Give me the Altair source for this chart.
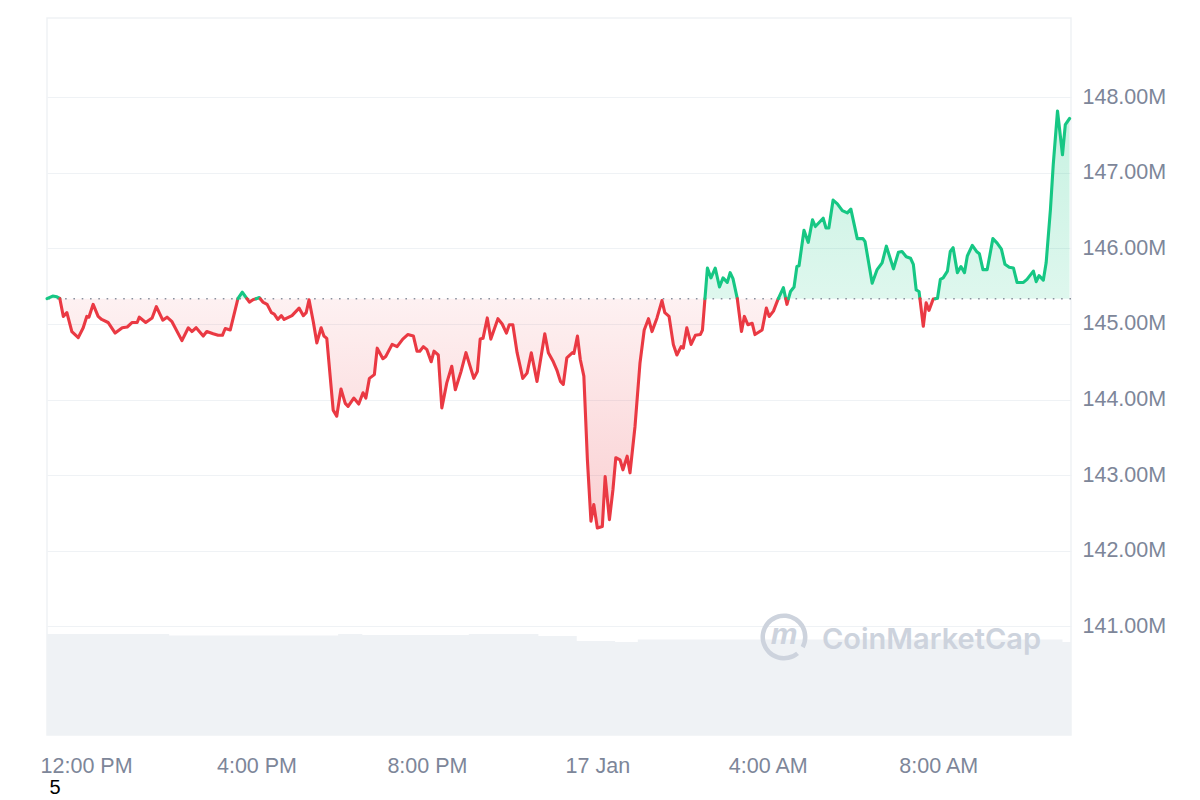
import altair as alt
import pandas as pd

# ---------------- data ----------------
START = "2024-01-16 11:05"
# minutes after START for each price sample
minutes = [0, 8, 14, 18, 23, 28, 35, 44, 51, 56, 59, 65, 72, 77, 86, 96, 106, 113, 120, 127,
           130, 139, 148, 154, 163, 169, 176, 190, 199, 204, 210, 220, 225, 234, 241, 247, 251, 258,
           269, 275, 285, 290, 299, 304, 310, 316, 320, 325, 330, 334, 345, 355, 361, 365, 369, 375,
           380, 386, 390, 394, 403, 408, 414, 420, 424, 432, 439, 445, 449, 454, 461, 465, 473, 477,
           486, 493, 501, 508, 516, 521, 525, 530, 535, 541, 545, 551, 556, 563, 570, 575, 583, 590,
           601, 606, 610, 614, 620, 625, 635, 641, 647, 651, 656, 662, 670, 676, 682, 690, 701, 706,
           713, 718, 723, 727, 732, 740, 742, 747, 751, 756, 761, 766, 770, 775, 782, 786, 792, 797,
           801, 807, 811, 817, 821, 828, 835, 841, 847, 852, 859, 866, 870, 876, 882, 887, 893, 896,
           901, 907, 913, 920, 923, 930, 935, 941, 947, 952, 958, 962, 966, 972, 978, 982, 987, 993,
           997, 1007, 1013, 1017, 1023, 1030, 1037, 1042, 1047, 1052, 1056, 1059, 1066, 1072, 1078,
           1082, 1093, 1097, 1101, 1107, 1113, 1120, 1127, 1132, 1141, 1149, 1152, 1162, 1169, 1176,
           1182, 1192, 1199, 1204, 1210, 1216, 1220, 1224, 1228, 1234, 1238, 1242, 1248, 1254, 1258,
           1262, 1268, 1272, 1276, 1282, 1287, 1292, 1296, 1303, 1309, 1313, 1318, 1324, 1332, 1338,
           1344, 1349, 1355, 1361, 1366, 1375, 1380, 1389, 1393, 1397, 1403, 1407, 1413, 1417, 1423,
           1430, 1434, 1440]
# market cap, millions USD
price = [145.335, 145.37, 145.36, 145.34, 145.10, 145.15, 144.90, 144.82, 144.95, 145.10, 145.09,
         145.26, 145.10, 145.06, 145.02, 144.88, 144.95, 144.96, 145.02, 145.02, 145.09, 145.02,
         145.08, 145.23, 145.05, 145.09, 145.03, 144.78, 144.95, 144.90, 144.95, 144.84, 144.90,
         144.87, 144.85, 144.85, 144.94, 144.92, 145.34, 145.42, 145.29, 145.32, 145.35, 145.29,
         145.26, 145.15, 145.13, 145.06, 145.11, 145.06, 145.11, 145.21, 145.11, 145.15, 145.32,
         145.03, 144.75, 144.95, 144.84, 144.81, 143.86, 143.78, 144.14, 143.95, 143.91, 144.02,
         143.94, 144.09, 144.02, 144.28, 144.33, 144.68, 144.54, 144.57, 144.73, 144.70, 144.80,
         144.86, 144.84, 144.64, 144.64, 144.70, 144.66, 144.50, 144.64, 144.59, 143.89, 144.22,
         144.44, 144.13, 144.37, 144.62, 144.28, 144.37, 144.80, 144.81, 145.08, 144.80, 145.07,
         145.00, 144.88, 144.99, 144.99, 144.62, 144.28, 144.35, 144.62, 144.24, 144.87, 144.62,
         144.50, 144.39, 144.24, 144.20, 144.55, 144.62, 144.61, 144.84, 144.53, 144.31, 143.20,
         142.39, 142.61, 142.30, 142.32, 142.98, 142.41, 142.81, 143.23, 143.20, 143.07, 143.25,
         143.03, 143.64, 144.48, 144.92, 145.07, 144.90, 145.08, 145.31, 145.15, 145.10, 144.73,
         144.59, 144.70, 144.68, 144.95, 144.73, 144.85, 144.86, 144.92, 145.74, 145.61, 145.74,
         145.49, 145.61, 145.55, 145.68, 145.60, 145.34, 144.90, 145.10, 144.99, 145.01, 144.86,
         144.92, 145.21, 145.10, 145.17, 145.34, 145.48, 145.26, 145.43, 145.49, 145.76, 145.77,
         146.24, 146.08, 146.38, 146.29, 146.40, 146.27, 146.27, 146.64, 146.59, 146.50, 146.47,
         146.52, 146.13, 146.13, 146.09, 145.54, 145.72, 145.81, 146.03, 145.73, 145.95, 145.96,
         145.89, 145.87, 145.79, 145.45, 145.43, 144.97, 145.28, 145.18, 145.33, 145.34, 145.59,
         145.61, 145.70, 145.96, 146.01, 145.68, 145.76, 145.68, 145.90, 146.04, 145.96, 145.93,
         145.72, 145.72, 146.13, 146.07, 145.99, 145.79, 145.75, 145.74, 145.55, 145.55, 145.59,
         145.70, 145.56, 145.64, 145.58, 145.81, 146.51, 147.11, 147.82, 147.24, 147.64, 147.72]

# volume profile (relative units, no axis shown)
vol_minutes = [0, 172, 410, 444, 594, 692, 746, 800, 832, 1430, 1442]
volume = [5.05, 4.98, 5.05, 5.00, 5.05, 4.95, 4.70, 4.65, 4.78, 4.65, 4.65]

y_ticks = [141, 142, 143, 144, 145, 146, 147, 148]
x_tick_hours = [(16, 12), (16, 16), (16, 20), (17, 0), (17, 4), (17, 8)]

# ---------------- build tables ----------------
t0 = pd.Timestamp(START)
times = [t0 + pd.Timedelta(minutes=m) for m in minutes]
base = price[0]


def side(v):
    return "up" if v >= base else "down"


rows = []
seg = 0
cur = side(price[0])
rows.append({"t": times[0], "v": price[0], "seg": seg, "side": cur})
for i in range(1, len(price)):
    v0, v1 = price[i - 1], price[i]
    s1 = side(v1)
    if s1 != cur:
        f = (base - v0) / (v1 - v0)
        tc = times[i - 1] + (times[i] - times[i - 1]) * f
        rows.append({"t": tc, "v": base, "seg": seg, "side": cur})
        seg += 1
        cur = s1
        rows.append({"t": tc, "v": base, "seg": seg, "side": cur})
    rows.append({"t": times[i], "v": v1, "seg": seg, "side": cur})

line_df = pd.DataFrame(rows)
line_df["lo"] = line_df["v"].clip(upper=base)
line_df["hi"] = line_df["v"].clip(lower=base)
line_df["base"] = base
line_df["t"] = line_df["t"].dt.strftime("%Y-%m-%dT%H:%M:%S")

vol_df = pd.DataFrame({
    "t": [(t0 + pd.Timedelta(minutes=m)).strftime("%Y-%m-%dT%H:%M:%S") for m in vol_minutes],
    "vol": volume,
})

# ---------------- styling ----------------
RED = "#ea3943"
GREEN = "#16c784"
GRID = "#eff2f5"
LABEL = "#7d8699"
FONT = "Liberation Sans"
FS = 21.5

x_domain = [alt.DateTime(year=2024, month=1, date=16, hours=11, minutes=5),
            alt.DateTime(year=2024, month=1, date=17, hours=11, minutes=7)]
x_values = [alt.DateTime(year=2024, month=1, date=d, hours=h) for d, h in x_tick_hours]

x_enc = alt.X(
    "t:T",
    scale=alt.Scale(domain=x_domain),
    axis=alt.Axis(
        values=x_values,
        labelExpr="hours(datum.value) == 0 ? timeFormat(datum.value, '%-d %b') : timeFormat(datum.value, '%-I:%M %p')",
        grid=False, domain=False, ticks=False, labelPadding=20,
        labelFontSize=FS, labelColor=LABEL, labelFont=FONT, title=None,
    ),
)
y_scale = alt.Scale(domain=[139.56, 149.05], nice=False, zero=False)
y_axis = alt.Axis(
    orient="right", values=y_ticks,
    labelExpr="format(datum.value, '.2f') + 'M'",
    grid=True, gridColor=GRID, gridWidth=1.2, domain=False, ticks=False,
    labelPadding=11, labelFontSize=FS, labelColor=LABEL, labelFont=FONT, title=None,
)

volume_layer = alt.Chart(vol_df).mark_area(
    interpolate="step-after", color="#eff2f5"
).encode(
    x=x_enc,
    y=alt.Y("vol:Q", scale=alt.Scale(domain=[0, 35.85], nice=False), axis=None),
)

red_fill = alt.Chart(line_df).mark_area(
    color=alt.Gradient(
        gradient="linear", x1=0, x2=0, y1=0, y2=1,
        stops=[alt.GradientStop(color="rgba(234,57,67,0.07)", offset=0),
               alt.GradientStop(color="rgba(234,57,67,0.24)", offset=1)],
    )
).encode(
    x=alt.X("t:T"),
    y=alt.Y("lo:Q", scale=y_scale, axis=y_axis),
    y2="base:Q",
)

green_fill = alt.Chart(line_df).mark_area(
    color=alt.Gradient(
        gradient="linear", x1=0, x2=0, y1=0, y2=1,
        stops=[alt.GradientStop(color="rgba(22,199,132,0.24)", offset=0),
               alt.GradientStop(color="rgba(22,199,132,0.14)", offset=1)],
    )
).encode(
    x=alt.X("t:T"),
    y=alt.Y("hi:Q"),
    y2="base:Q",
)

baseline = alt.Chart(pd.DataFrame({"b": [base]})).mark_rule(
    color="#8a919e", strokeWidth=1.6, strokeDash=[1.6, 6.7]
).encode(y=alt.Y("b:Q"))

lines = alt.Chart(line_df).mark_line(
    strokeWidth=3.1, strokeJoin="round", strokeCap="round"
).encode(
    x=alt.X("t:T"),
    y=alt.Y("v:Q"),
    color=alt.Color("side:N", scale=alt.Scale(domain=["up", "down"], range=[GREEN, RED]), legend=None),
    detail="seg:N",
)

wm_df = pd.DataFrame({"label": ["CoinMarketCap"]})
logo_ring = alt.Chart(wm_df).mark_arc(
    innerRadius=19, outerRadius=23.5, theta=2.45, theta2=8.35, color="#cdd3dd"
).encode(x=alt.value(737), y=alt.value(619))
logo_m = alt.Chart(wm_df).mark_text(
    text="m", font=FONT, fontSize=30, fontStyle="italic", fontWeight="bold",
    color="#cdd3dd", align="center", baseline="middle"
).encode(x=alt.value(737), y=alt.value(617))
wm_text = alt.Chart(wm_df).mark_text(
    font="Inter", fontSize=29, fontWeight=600, color="#cdd3dd", align="left", baseline="middle"
).encode(x=alt.value(775), y=alt.value(622), text="label:N")

five = alt.Chart(pd.DataFrame({"s": ["5"]})).mark_text(
    font=FONT, fontSize=20, color="#000000", align="center", baseline="middle"
).encode(x=alt.value(8), y=alt.value(770), text="s:N")

price_layers = alt.layer(red_fill, green_fill, baseline, lines, logo_ring, logo_m, wm_text, five)

chart = alt.layer(volume_layer, price_layers).resolve_scale(y="independent").properties(
    width=1024, height=717,
    autosize=alt.AutoSizeParams(type="none"),
    padding={"left": 39, "top": 10, "right": 120, "bottom": 60},
    background="#ffffff",
).configure_view(stroke=GRID, strokeWidth=1.5)

chart = chart.properties(padding={"left": 39, "top": 10, "right": 120, "bottom": 66})

chart.save("out.html", embed_options={"renderer": "svg", "actions": False})
